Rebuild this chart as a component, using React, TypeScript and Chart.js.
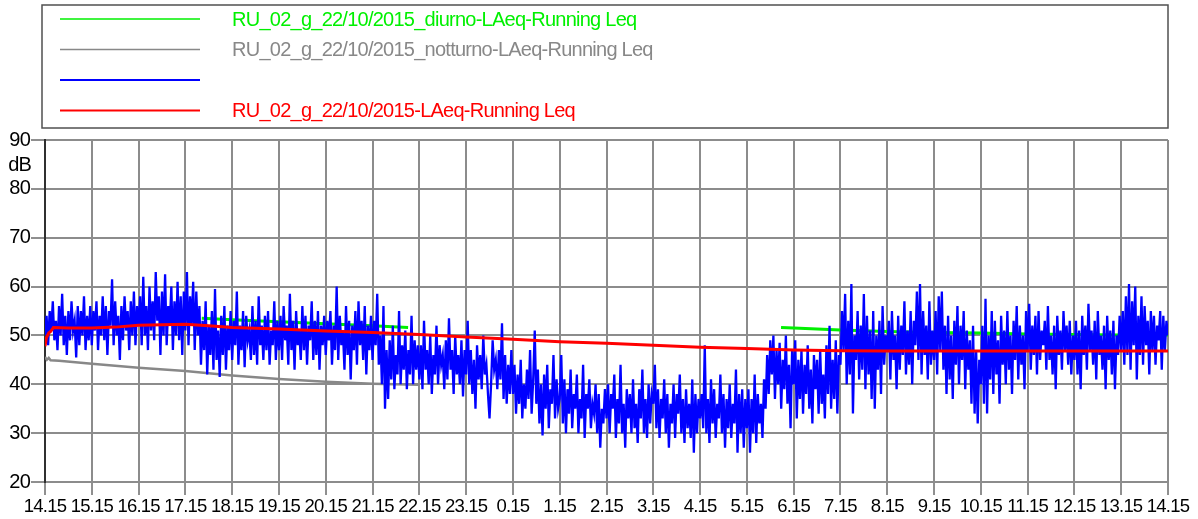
import React, { useEffect, useRef } from "react";
import { Chart, registerables } from "chart.js";

Chart.register(...registerables);

// X axis tick labels (hour marks, one per hour from 14.15 to 14.15 next day)
const xTickLabels = [
  "14.15", "15.15", "16.15", "17.15", "18.15", "19.15", "20.15", "21.15", "22.15", "23.15",
  "0.15", "1.15", "2.15", "3.15", "4.15", "5.15", "6.15", "7.15", "8.15", "9.15",
  "10.15", "11.15", "12.15", "13.15", "14.15",
];

const seriesLabels = [
  "RU_02_g_22/10/2015_diurno-LAeq-Running Leq",
  "RU_02_g_22/10/2015_notturno-LAeq-Running Leq",
  "",
  "RU_02_g_22/10/2015-LAeq-Running Leq",
];

// Day-period running Leq (hours after 14.15); null = gap (night period)
const diurnoHours = [3.35, 4, 5, 6, 7, 7.76, 12, 15.73, 16, 17, 18, 19, 20, 21, 22, 23, 24];
const diurnoValues = [53.5, 53.2, 52.8, 52.4, 52.0, 51.6, null, 51.6, 51.5, 51.1, 50.8, 50.6, 50.5, 50.3, 50.2, 50.1, 50.1];

// Night-period running Leq
const notturnoHours = [0, 0.04, 0.08, 0.12, 0.3, 1, 2, 3, 4, 5, 6, 7, 8];
const notturnoValues = [45.6, 45.0, 45.4, 44.9, 44.8, 44.2, 43.4, 42.7, 41.8, 41.1, 40.5, 40.1, 39.9];

// Overall running Leq
const leqHours = [0, 0.03, 0.08, 0.12, 0.18, 0.5, 1, 1.5, 2, 2.5, 3, 3.5, 4, 5, 6, 7, 8, 9, 10, 11, 12, 13, 14, 15, 16, 17, 18, 24];
const leqValues = [47.8, 49.5, 50.5, 50.8, 51.6, 51.5, 51.5, 51.7, 52.1, 52.2, 52.3, 52.0, 51.6, 51.3, 50.9, 50.6, 50.2, 49.7, 49.2, 48.7, 48.4, 48.0, 47.6, 47.3, 47.0, 46.85, 46.8, 46.8];

// Short-time LAeq, one value every 2 minutes (30 per hour), 14.15 -> 14.15
const samplesPerHour = 30;
const laeqShort = [
  50, 54, 48, 55, 51, 57, 49, 53, 47, 56, 50, 58.5, 48, 54, 46, 55, 49, 57, 51, 53, 45.5, 56, 48, 55, 50, 58, 47, 54, 49, 56,
  48, 55, 51, 57, 47, 54, 50, 58, 49, 56, 46, 55, 52, 61.5, 48, 57, 50, 54, 45, 56, 49, 58, 51, 55, 47, 57, 50, 59, 48, 56,
  52, 58, 48, 62, 50, 56, 47, 60, 51, 57, 49, 63, 53, 58, 46, 59, 50, 62.5, 48, 56, 52, 60, 47, 57, 50, 61, 49, 58, 46, 59,
  51, 63, 48, 58, 52, 61, 47, 59, 50, 56, 44, 53, 47, 57, 42, 52, 46, 55, 43, 59.5, 45, 51, 41.5, 54, 46, 56, 43, 52, 47, 55,
  45, 53, 48, 59, 44, 52, 47, 55, 43.5, 54, 49, 51, 45, 56, 46, 53, 44, 58, 48, 52, 45, 54, 47, 55, 44, 51, 48, 57, 45, 53,
  47, 54, 45, 56, 49, 52, 44, 58.5, 47, 53, 43, 55, 48, 51, 45, 56, 47, 54, 44, 52, 49, 57, 45, 53, 46, 55, 43, 52, 48, 54,
  46, 53, 49, 55, 44, 52, 47, 60, 45, 54, 48, 51, 43, 56, 46, 53, 41, 52, 47, 55, 44, 57, 48, 53, 45, 56, 42, 52, 47, 54,
  45, 53, 48, 58.5, 44, 50, 40, 56, 35, 47, 37, 49, 41, 52, 39, 46, 42, 55, 40, 48, 43, 51, 39, 47, 42, 54, 40, 49, 43, 48,
  41, 48, 39, 53, 43, 47, 40, 50, 38, 46, 42, 52, 40, 48, 44, 46, 39, 49, 41, 53.5, 43, 47, 38, 50, 42, 46, 40, 49, 37.5, 47,
  42, 53, 40, 47, 38, 45, 35, 48, 41, 46, 39, 50, 42, 44, 38, 33, 40, 49, 43, 45, 39, 47, 41, 52.5, 37, 46, 36, 44, 38, 47,
  38, 44, 34, 42, 36, 45, 33, 40, 35, 43, 37, 47, 34, 41, 51, 36, 43, 32, 40, 29.5, 42, 35, 44, 31, 39, 36, 46, 33, 41, 35,
  37, 46, 32, 41, 30, 39, 34, 43, 31, 38, 35, 42, 30, 37, 33, 44, 29, 38, 35, 41, 31, 36, 34, 40, 30, 38, 27, 35, 32, 39,
  33, 40, 30, 38, 35, 42, 29, 37, 32, 44, 30, 36, 27, 39, 33, 38, 30, 41, 31, 36, 28, 39, 33, 43, 30, 37, 29, 40, 32, 38,
  36, 44, 31, 39, 29, 37, 33, 41, 30, 38, 27, 36, 32, 40, 29, 38, 34, 42, 30, 37, 28, 39, 31, 36, 29, 41, 26, 38, 30, 37,
  33, 38, 31, 48, 30, 37, 28, 41, 32, 39, 29, 36, 33, 42, 30, 38, 27, 37, 31, 40, 29, 36, 32, 43, 26, 38, 30, 39, 27, 37,
  31, 39, 26, 37, 30, 42, 28, 38, 32, 36, 29, 41, 35, 46, 38, 49, 42, 50, 37, 47, 40, 48.5, 35, 45, 39, 50, 36, 44, 31, 47,
  40, 49, 33, 45, 37, 47, 34, 44, 38, 48, 35, 43, 32, 46, 39, 45, 34, 47, 36, 42, 33, 48, 38, 52, 35, 45, 37, 49, 34, 46,
  44, 55, 47, 58.5, 40, 53, 42, 60.5, 34, 50, 45, 55, 41, 52, 43, 58.5, 39, 54, 42, 51, 37, 55, 35, 50, 43, 53, 38, 56, 44, 50,
  47, 53, 41, 55, 45, 50, 39, 54, 43, 52, 46, 57, 42, 51, 44, 55, 40, 53, 48, 59, 45, 60.5, 42, 55, 46, 52, 41, 57, 44, 51,
  45, 55, 42, 58, 47, 59, 43, 52, 38, 54, 41, 50, 37, 53, 44, 56, 40, 52, 45, 55, 39, 51, 43, 49, 36, 52, 34, 47, 32, 45,
  40, 52, 36, 57.5, 34, 50, 41, 55, 38, 53, 42, 49, 36, 54, 44, 51, 40, 55, 43, 50, 38, 53, 45, 56, 41, 52, 44, 50, 39, 55,
  47, 56.5, 43, 52, 46, 54, 42, 55, 45, 51, 48, 53, 43, 56, 45, 50, 42, 52, 39, 54, 46, 51, 43, 55, 47, 52, 44, 53, 42, 50,
  45, 53, 42, 51, 39, 54, 46, 52, 43, 56.5, 47, 51, 44, 53, 41, 55, 46, 50, 43, 52, 39, 54, 45, 51, 42, 53, 39, 50, 46, 54,
  47, 55, 44, 58, 46, 60.5, 43, 57, 48, 60, 41, 54, 46, 58, 44, 56, 48, 53, 42, 55, 47, 54, 44, 52, 49, 55, 43, 54, 47, 53,
  50,
];

const FONT = '"Liberation Sans", Arial, sans-serif';
const GREEN = "#00f000";
const GRAY = "#888888";
const BLUE = "#0000ff";
const RED = "#ff0000";
const GRID = "#8c8c8c";

const pairs = (xs: number[], ys: (number | null)[]) => xs.map((x, i) => ({ x, y: ys[i] }));

const chromePlugin = {
  id: "chrome",
  beforeDraw(chart: any) {
    chart.ctx.letterSpacing = "-0.8px";
  },
  afterDraw(chart: any) {
    const ctx = chart.ctx;
    ctx.save();
    ctx.letterSpacing = "0px";
    ctx.strokeStyle = "#505050";
    ctx.lineWidth = 1.5;
    ctx.strokeRect(42, 5, 1126, 123);
    const rowY = [19, 49.5, 80, 110.5];
    chart.data.datasets.forEach((ds: any, i: number) => {
      const y = rowY[i];
      ctx.strokeStyle = ds.borderColor;
      ctx.lineWidth = i === 2 || i === 3 ? 2 : 1.5;
      ctx.beginPath();
      ctx.moveTo(60, y);
      ctx.lineTo(200, y);
      ctx.stroke();
      if (ds.label) {
        ctx.font = `20px ${FONT}`;
        ctx.letterSpacing = "-0.75px";
        ctx.fillStyle = ds.borderColor;
        ctx.textAlign = "left";
        ctx.textBaseline = "middle";
        ctx.fillText(ds.label, 232, y + 1);
      }
    });
    ctx.font = `20px ${FONT}`;
    ctx.letterSpacing = "-0.8px";
    ctx.fillStyle = "#000";
    ctx.textAlign = "right";
    ctx.textBaseline = "alphabetic";
    ctx.fillText("dB", 31, 171);
    ctx.restore();
  },
};

export default function App() {
  const ref = useRef<HTMLCanvasElement>(null);

  useEffect(() => {
    document.body.style.margin = "0";
    const chart = new Chart(ref.current as HTMLCanvasElement, {
      type: "line",
      data: {
        datasets: [
          {
            label: seriesLabels[0],
            data: pairs(diurnoHours, diurnoValues),
            borderColor: GREEN,
            borderWidth: 3,
            order: 3,
          },
          {
            label: seriesLabels[1],
            data: pairs(notturnoHours, notturnoValues),
            borderColor: GRAY,
            borderWidth: 2.5,
            order: 2,
          },
          {
            label: seriesLabels[2],
            data: laeqShort.map((v, i) => ({ x: i / samplesPerHour, y: v })),
            borderColor: BLUE,
            borderWidth: 2.3,
            order: 1,
          },
          {
            label: seriesLabels[3],
            data: pairs(leqHours, leqValues),
            borderColor: RED,
            borderWidth: 3,
            order: 0,
          },
        ] as any,
      },
      options: {
        responsive: false,
        devicePixelRatio: 1,
        animation: false,
        events: [],
        spanGaps: false,
        elements: {
          point: { radius: 0 },
          line: { tension: 0, fill: false },
        },
        layout: { padding: { top: 140, right: 30, left: 0, bottom: 0 } },
        plugins: {
          legend: { display: false },
          tooltip: { enabled: false },
          title: { display: false },
        },
        scales: {
          x: {
            type: "linear",
            min: 0,
            max: 24,
            afterBuildTicks: (scale: any) => {
              scale.ticks = xTickLabels.map((_, i) => ({ value: i }));
            },
            afterFit: (scale: any) => {
              scale.height = 37;
            },
            ticks: {
              autoSkip: false,
              maxRotation: 0,
              minRotation: 0,
              padding: 1,
              color: "#000",
              font: { family: FONT, size: 18.5 },
              callback: (v: any) => xTickLabels[v] ?? "",
            },
            grid: {
              color: GRID,
              lineWidth: 2,
              tickColor: "#202020",
              tickLength: 13,
              tickWidth: 1,
            },
            border: { color: GRID, width: 2 },
          },
          y: {
            min: 20,
            max: 90,
            afterFit: (scale: any) => {
              scale.width = 45;
            },
            ticks: {
              stepSize: 10,
              padding: 1,
              color: "#000",
              font: { family: FONT, size: 20 },
            },
            grid: {
              color: GRID,
              lineWidth: 2,
              tickColor: "#202020",
              tickLength: 14,
              tickWidth: 1,
            },
            border: { color: "#303030", width: 2 },
          },
        },
      } as any,
      plugins: [chromePlugin],
    });
    return () => chart.destroy();
  }, []);

  return (
    <canvas
      ref={ref}
      width={1198}
      height={519}
      style={{ display: "block", width: 1198, height: 519 }}
    />
  );
}
